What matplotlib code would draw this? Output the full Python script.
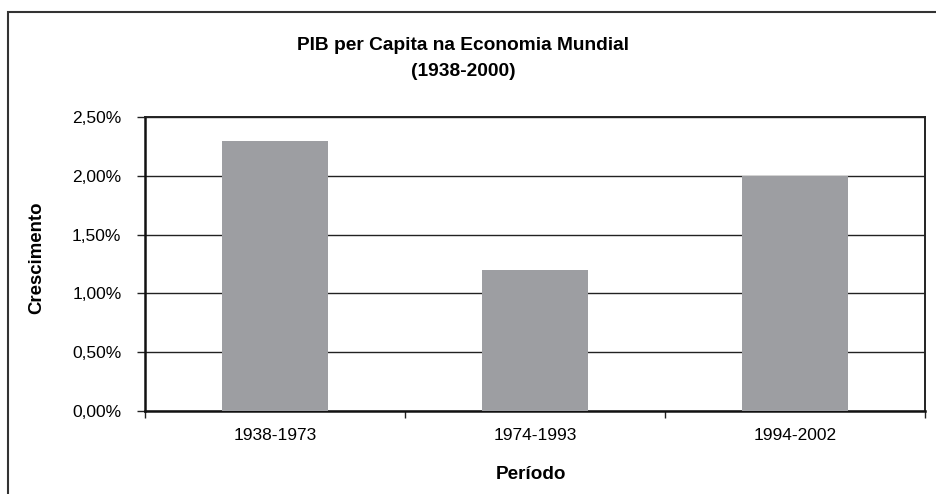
import matplotlib
matplotlib.use("Agg")
import matplotlib.pyplot as plt
from matplotlib.patches import Rectangle

categories = ["1938-1973", "1974-1993", "1994-2002"]
values = [2.30, 1.20, 2.00]
yticks = [0.0, 0.5, 1.0, 1.5, 2.0, 2.5]
ytick_labels = ["0,00%", "0,50%", "1,00%", "1,50%", "2,00%", "2,50%"]

plt.rcParams['font.family'] = ['Liberation Sans', 'DejaVu Sans']

W, H = 937, 494
fig = plt.figure(figsize=(W/100, H/100), dpi=100)
fig.patch.set_facecolor('white')

# outer frame (extends past right/bottom edges)
fig.patches.append(Rectangle((8/W, -0.2), 1.2, (H-12)/H + 0.2, transform=fig.transFigure,
                             fill=False, edgecolor='#333333', linewidth=1.5))

ax = fig.add_axes([145/W, (H-411)/H, (925-145)/W, (411-117)/H])
x = list(range(len(categories)))
ax.bar(x, values, width=0.405, color='#9d9ea2', zorder=3)
ax.set_xlim(-0.5, 2.5)
ax.set_ylim(0, 2.5)
ax.set_yticks(yticks)
ax.set_yticklabels(ytick_labels, fontsize=12.5)
ax.yaxis.grid(True, color='#222222', linewidth=1.0, zorder=0)
ax.set_axisbelow(True)

ax.set_xticks(x)
ax.set_xticklabels(categories, fontsize=12.5)
ax.tick_params(axis='x', which='major', length=0, pad=12)
ax.set_xticks([-0.5, 0.5, 1.5, 2.5], minor=True)
ax.tick_params(axis='x', which='minor', length=5, width=1.0, color='#222222', direction='out')
ax.tick_params(axis='y', length=6, width=1.0, pad=11, color='#222222', direction='out')

for s in ['left', 'bottom']:
    ax.spines[s].set_linewidth(1.8)
    ax.spines[s].set_color('#111111')
for s in ['top', 'right']:
    ax.spines[s].set_linewidth(1.4)
    ax.spines[s].set_color('#222222')

fig.text(463/W, 1 - 45/H, "PIB per Capita na Economia Mundial", ha='center', va='center',
         fontsize=13.8, fontweight='bold')
fig.text(463/W, 1 - 71/H, "(1938-2000)", ha='center', va='center',
         fontsize=13.8, fontweight='bold')
fig.text(37/W, 1 - 258/H, "Crescimento", rotation=90, ha='center', va='center',
         fontsize=13.4, fontweight='bold')
fig.text(531/W, 1 - 474/H, "Período", ha='center', va='center',
         fontsize=13.6, fontweight='bold')

fig.savefig("out.png", dpi=100, facecolor='white')
